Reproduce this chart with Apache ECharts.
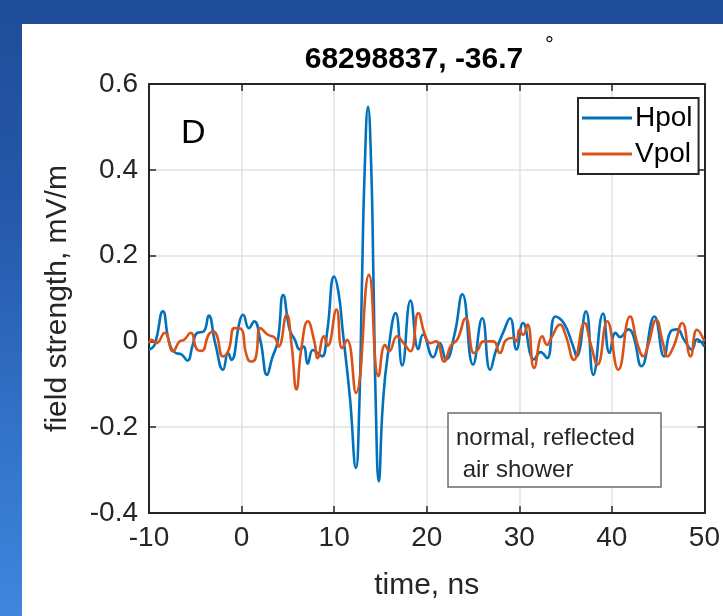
<!DOCTYPE html>
<html>
<head>
<meta charset="utf-8">
<script src="https://cdn.jsdelivr.net/npm/echarts@6/dist/echarts.min.js"></script>
<style>
  html, body { margin: 0; padding: 0; }
  body {
    width: 723px; height: 616px; overflow: hidden; position: relative;
    background: linear-gradient(to bottom, #1f4c98 0%, #2659ab 35%, #3476cc 75%, #3f86dc 100%);
  }
  .panel { position: absolute; left: 22px; top: 24px; right: 0; bottom: 0; background: #ffffff; }
  #chart { position: absolute; left: 0; top: 0; width: 723px; height: 616px; }
</style>
</head>
<body>
<div class="panel"></div>
<div id="chart"></div>
<script>
// Hpol trace (time in ns, field in mV/m)
var hpolTime = [-10.0, -9.4, -8.5, -7.8, -7.1, -6.5, -5.85, -5.3, -4.8, -4.1, -3.55, -2.85, -2.0, -1.45, -1.1,
  -0.2, 0.15, 0.8, 1.35, 2.05, 2.75, 3.3, 3.9, 4.5, 5.2, 5.75, 6.3, 6.7, 7.15, 7.7, 8.2, 8.7, 9.25,
  10.0, 10.5, 10.9, 11.7, 12.36, 12.7, 13.0, 13.3, 13.66, 14.0, 14.25, 14.5, 14.82, 15.25, 15.8,
  16.65, 17.35, 18.25, 19.1, 19.6, 20.7, 21.4, 22.1, 23.0, 23.85, 25.0, 26.0, 26.85, 27.5, 28.25, 29.0,
  29.7, 30.4, 31.6, 32.3, 33.0, 33.9, 34.8, 35.8, 36.2, 37.2, 38.0, 39.05, 39.75, 40.4, 40.9, 41.8,
  42.3, 43.2, 44.6, 45.65, 46.35, 47.05, 47.8, 48.65, 49.2, 50.0]
var hpolVal = [-0.019, -0.008, 0.070, -0.004, -0.027, -0.030, -0.045, -0.010, 0.020, 0.023, 0.060, -0.004, -0.066, -0.027, -0.043,
  0.047, 0.062, 0.031, 0.047, 0.000, -0.078, -0.039, 0.000, 0.108, 0.027, 0.004, -0.019, -0.012, -0.052, -0.020, -0.027, -0.035, 0.023,
  0.151, 0.110, 0.030, -0.130, -0.295, -0.165, 0.130, 0.400, 0.547, 0.410, 0.140, -0.150, -0.326, -0.150, -0.030,
  0.066, -0.056, 0.095, -0.018, 0.016, -0.037, -0.004, -0.042, 0.016, 0.110, -0.054, 0.054, -0.066, -0.020, 0.020, 0.054,
  -0.019, 0.043, -0.042, -0.025, -0.039, 0.058, 0.043, -0.010, -0.035, 0.070, -0.078, 0.065, -0.027, 0.020, 0.010, 0.028,
  0.015, -0.058, 0.058, -0.035, 0.023, 0.028, 0.004, -0.019, 0.005, -0.012]

// Vpol trace
var vpolTime = [-10.0, -9.7, -9.2, -8.3, -7.4, -6.7, -6.2, -5.5, -4.8, -4.3, -3.55, -3.05, -2.7, -2.0, -1.4, -0.75,
  -0.05, 0.47, 1.0, 1.5, 2.05, 2.8, 3.6, 4.0, 4.87, 5.4, 5.93, 6.46, 7.16, 7.86, 8.2, 8.9, 9.3,
  10.25, 10.85, 11.4, 12.36, 13.76, 14.8, 15.5, 15.95, 16.8, 17.5, 18.24, 19.1, 19.8, 20.4, 21.0, 21.9,
  22.6, 23.3, 24.2, 25.1, 25.5, 26.15, 27.2, 27.9, 28.6, 29.3, 29.7, 30.0, 30.4, 30.9, 31.6, 32.5, 33.0,
  33.5, 34.4, 35.0, 35.9, 37.05, 37.7, 38.45, 39.5, 40.7, 41.97, 42.8, 43.4, 43.9, 44.8, 45.5, 46.0,
  46.7, 47.6, 48.5, 49.2, 50.0]
var vpolVal = [-0.004, 0.004, -0.004, 0.020, -0.023, 0.000, 0.004, 0.020, -0.019, -0.022, 0.016, 0.023, 0.016, -0.035, -0.020, 0.031,
  0.029, -0.027, -0.047, -0.040, 0.031, 0.016, 0.008, -0.012, 0.062, -0.008, -0.112, -0.016, 0.047, 0.000, -0.039, 0.012, -0.010,
  0.074, -0.016, 0.004, -0.120, 0.155, -0.081, -0.008, -0.023, 0.012, -0.004, -0.023, 0.066, 0.016, -0.004, 0.000, -0.047,
  -0.010, 0.004, 0.054, -0.027, -0.020, 0.000, 0.000, -0.027, 0.004, 0.008, 0.000, 0.027, 0.015, 0.039, -0.062, 0.012, -0.008,
  0.010, 0.039, 0.015, -0.043, 0.043, -0.005, -0.054, 0.047, -0.066, 0.058, -0.008, -0.035, -0.010, 0.050, -0.002, -0.035,
  -0.010, 0.043, -0.035, 0.027, 0.000]

var xTicks = { min: -10, max: 50, step: 10 }
var yTicks = { min: -0.4, max: 0.6, step: 0.2 }
var seriesNames = ['Hpol', 'Vpol']

function pairs (xs, ys) {
  var out = []
  for (var i = 0; i < xs.length; i++) out.push([xs[i], ys[i]])
  return out
}

var ink = '#262626'
var gridColor = '#e2e2e2'
var font = 'Liberation Sans, Arial, Helvetica, sans-serif'

function boxAxis (pos, ticks, showLabel, extra) {
  var ax = {
    type: 'value',
    position: pos,
    min: ticks.min,
    max: ticks.max,
    interval: ticks.step,
    axisLine: { show: true, onZero: false, lineStyle: { color: ink, width: 2 } },
    axisTick: { show: true, inside: true, length: 7, lineStyle: { color: ink, width: 1.5 } },
    splitLine: { show: showLabel, lineStyle: { color: gridColor, width: 1.5 } },
    axisLabel: { show: showLabel, color: ink, fontSize: 28, fontFamily: font, margin: 11 }
  }
  return Object.assign(ax, extra || {})
}

var chart = echarts.init(document.getElementById('chart'))
chart.setOption({
  animation: false,
  grid: { left: 149, right: 5, top: 84, bottom: 103 },
  xAxis: [
    boxAxis('bottom', xTicks, true, {
      name: 'time, ns',
      nameLocation: 'middle',
      nameGap: 58,
      nameTextStyle: { color: ink, fontSize: 30, fontFamily: font }
    }),
    boxAxis('top', xTicks, false)
  ],
  yAxis: [
    boxAxis('left', yTicks, true, {
      name: 'field strength, mV/m',
      nameLocation: 'middle',
      nameGap: 76,
      nameTextStyle: { color: ink, fontSize: 30, fontFamily: font },
      axisLabel: {
        color: ink, fontSize: 28, fontFamily: font, margin: 11,
        formatter: function (v) { return String(Math.round(v * 10) / 10) }
      }
    }),
    boxAxis('right', yTicks, false)
  ],
  legend: {
    data: seriesNames,
    orient: 'vertical',
    left: 578,
    top: 98,
    backgroundColor: '#ffffff',
    borderColor: ink,
    borderWidth: 2,
    borderRadius: 0,
    padding: [6, 6, 6, 4],
    itemGap: 8,
    itemWidth: 50,
    itemHeight: 3,
    icon: 'rect',
    textStyle: { color: '#000', fontSize: 28, fontFamily: font, padding: [0, 0, 0, -2] }
  },
  series: [
    {
      name: 'Hpol',
      type: 'line',
      data: pairs(hpolTime, hpolVal),
      showSymbol: false,
      smooth: 0.5,
      color: '#0072BD',
      lineStyle: { width: 2.6 }
    },
    {
      name: 'Vpol',
      type: 'line',
      data: pairs(vpolTime, vpolVal),
      showSymbol: false,
      smooth: 0.5,
      color: '#D95319',
      lineStyle: { width: 2.6 }
    }
  ],
  graphic: [
    { // title
      type: 'text', x: 414, y: 60,
      style: { text: '68298837, -36.7', fill: '#000', font: 'bold 30px ' + font, align: 'center', verticalAlign: 'middle' }
    },
    {
      type: 'text', x: 545, y: 46,
      style: { text: '°', fill: '#000', font: '22px ' + font, align: 'left', verticalAlign: 'middle' }
    },
    { // panel letter
      type: 'text', x: 181, y: 134,
      style: { text: 'D', fill: '#000', font: '34px ' + font, align: 'left', verticalAlign: 'middle' }
    },
    { // annotation box
      type: 'rect', z: 10,
      shape: { x: 448, y: 413, width: 213, height: 74 },
      style: { fill: '#ffffff', stroke: '#6e6e6e', lineWidth: 1.5 }
    },
    {
      type: 'text', z: 11, x: 456, y: 438,
      style: { text: 'normal, reflected', fill: ink, font: '24px ' + font, verticalAlign: 'middle' }
    },
    {
      type: 'text', z: 11, x: 456, y: 470,
      style: { text: ' air shower', fill: ink, font: '24px ' + font, verticalAlign: 'middle' }
    }
  ]
})
</script>
</body>
</html>
